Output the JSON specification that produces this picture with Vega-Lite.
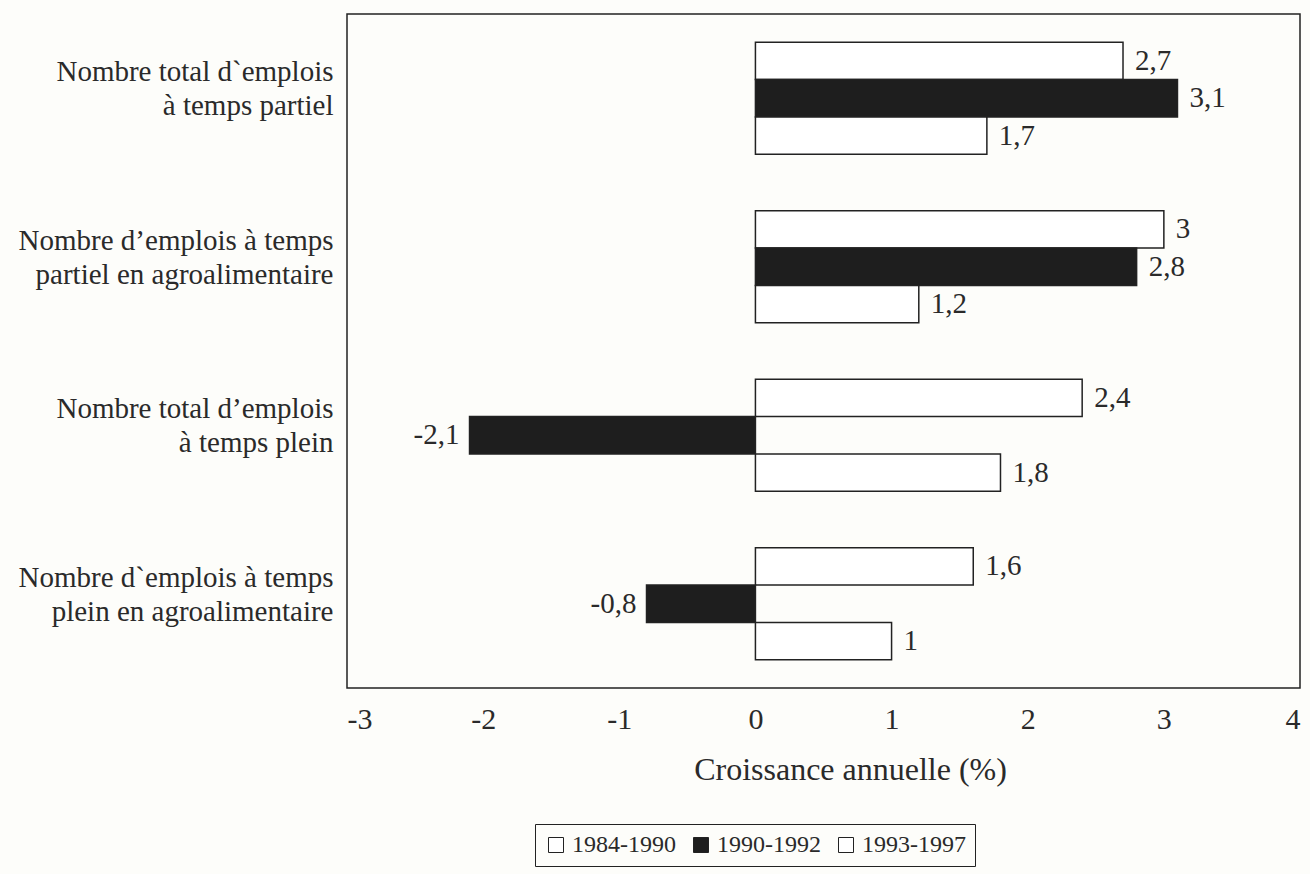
{
  "$schema": "https://vega.github.io/schema/vega-lite/v6.json",
  "width": 953,
  "height": 674,
  "autosize": {"type": "none"},
  "padding": {"left": 347, "top": 14, "right": 10, "bottom": 186},
  "background": "#fdfdfa",
  "data": {
    "values": [
      {"categorie": "Nombre total d`emplois|à temps partiel ", "periode": "1984-1990", "valeur": 2.7},
      {"categorie": "Nombre total d`emplois|à temps partiel ", "periode": "1990-1992", "valeur": 3.1},
      {"categorie": "Nombre total d`emplois|à temps partiel ", "periode": "1993-1997", "valeur": 1.7},
      {"categorie": "Nombre d’emplois à temps|partiel en agroalimentaire", "periode": "1984-1990", "valeur": 3.0},
      {"categorie": "Nombre d’emplois à temps|partiel en agroalimentaire", "periode": "1990-1992", "valeur": 2.8},
      {"categorie": "Nombre d’emplois à temps|partiel en agroalimentaire", "periode": "1993-1997", "valeur": 1.2},
      {"categorie": "Nombre total d’emplois |à temps plein ", "periode": "1984-1990", "valeur": 2.4},
      {"categorie": "Nombre total d’emplois |à temps plein ", "periode": "1990-1992", "valeur": -2.1},
      {"categorie": "Nombre total d’emplois |à temps plein ", "periode": "1993-1997", "valeur": 1.8},
      {"categorie": "Nombre d`emplois à temps|plein en agroalimentaire", "periode": "1984-1990", "valeur": 1.6},
      {"categorie": "Nombre d`emplois à temps|plein en agroalimentaire", "periode": "1990-1992", "valeur": -0.8},
      {"categorie": "Nombre d`emplois à temps|plein en agroalimentaire", "periode": "1993-1997", "valeur": 1.0}
    ]
  },
  "encoding": {
    "y": {
      "field": "categorie",
      "type": "nominal",
      "sort": null,
      "scale": {"paddingInner": 0.335, "paddingOuter": 0.1675},
      "axis": {
        "title": null,
        "domain": false,
        "ticks": false,
        "labelPadding": 14,
        "labelFontSize": 29,
        "labelLineHeight": 34,
        "labelOffset": -26,
        "labelLimit": 0,
        "labelColor": "#2a2a2a",
        "labelExpr": "split(datum.label, '|')"
      }
    },
    "yOffset": {
      "field": "periode",
      "type": "nominal",
      "sort": null,
      "scale": {"paddingInner": 0, "paddingOuter": 0}
    },
    "x": {
      "field": "valeur",
      "type": "quantitative",
      "scale": {"domain": [-3, 4], "nice": false, "zero": false},
      "axis": {
        "title": "Croissance annuelle (%)",
        "values": [-3, -2, -1, 0, 1, 2, 3, 4],
        "format": "d",
        "grid": false,
        "domain": false,
        "ticks": false,
        "labelPadding": 16,
        "labelFontSize": 30,
        "labelColor": "#2a2a2a",
        "titleFontSize": 32,
        "titleFontWeight": "normal",
        "titleColor": "#2a2a2a",
        "titlePadding": 20,
        "titleX": 503
      }
    }
  },
  "layer": [
    {
      "mark": {"type": "bar", "stroke": "#222222", "strokeWidth": 1.5},
      "encoding": {
        "color": {
          "field": "periode",
          "type": "nominal",
          "scale": {"domain": ["1984-1990", "1990-1992", "1993-1997"], "range": ["#ffffff", "#1e1e1e", "#ffffff"]},
          "legend": {
            "title": null,
            "orient": "none",
            "legendX": 188,
            "legendY": 810,
            "direction": "horizontal",
            "strokeColor": "#222222",
            "padding": 9,
            "symbolType": "square",
            "symbolSize": 225,
            "symbolStrokeColor": "#222222",
            "symbolStrokeWidth": 1,
            "symbolOpacity": 1,
            "labelFontSize": 24,
            "labelColor": "#2a2a2a",
            "labelOffset": 4,
            "columnPadding": 13
          }
        }
      }
    },
    {
      "transform": [{"filter": "datum.valeur >= 0"}],
      "mark": {"type": "text", "align": "left", "baseline": "middle", "dx": 12, "fontSize": 29, "color": "#2a2a2a"},
      "encoding": {"text": {"field": "valeur", "type": "quantitative", "format": ".1~f"}}
    },
    {
      "transform": [{"filter": "datum.valeur < 0"}],
      "mark": {"type": "text", "align": "right", "baseline": "middle", "dx": -10, "fontSize": 29, "color": "#2a2a2a"},
      "encoding": {"text": {"field": "valeur", "type": "quantitative", "format": ".1~f"}}
    },
    {
      "mark": {"type": "rule", "color": "#222222", "strokeWidth": 1.2},
      "encoding": {"x": {"datum": 0}}
    }
  ],
  "config": {
    "font": "Liberation Serif",
    "view": {"stroke": "#222222", "strokeWidth": 1.5},
    "locale": {
      "number": {"decimal": ",", "thousands": " ", "grouping": [3], "currency": ["", " €"], "minus": "-"}
    }
  }
}
